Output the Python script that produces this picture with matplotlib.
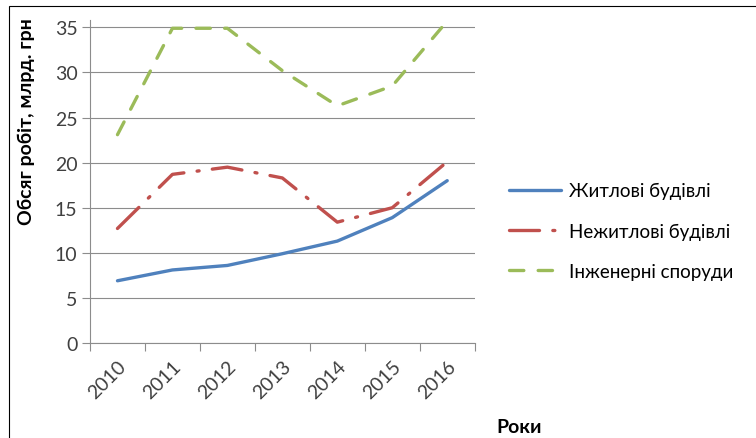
import numpy as np
import matplotlib.pyplot as plt
from matplotlib.patches import Rectangle

plt.rcParams['font.family'] = ['Lato', 'DejaVu Sans']

years = ['2010', '2011', '2012', '2013', '2014', '2015', '2016']
residential = [6.9, 8.1, 8.6, 9.9, 11.3, 13.9, 18.0]
non_residential = [12.7, 18.7, 19.5, 18.3, 13.4, 15.0, 20.1]
engineering = [23.1, 34.9, 34.9, 30.2, 26.3, 28.5, 35.7]
y_ticks = [0, 5, 10, 15, 20, 25, 30, 35]

fig = plt.figure(figsize=(7.56, 4.39), dpi=100)
ax = fig.add_axes([90 / 756, 1 - 344 / 439, (474.7 - 90) / 756, (344 - 20.7) / 439])

# chart border (Excel-style frame, cut off at right/bottom)
fig.patches.append(Rectangle((9 / 756, -0.1), 1.2, 1 - 7 / 439 + 0.1,
                             transform=fig.transFigure, fill=False,
                             edgecolor='#000000', linewidth=0.8))

x = np.arange(len(years))
ax.plot(x, residential, color='#4F81BD', lw=2.4, solid_capstyle='round',
        label='Житлові будівлі')
ax.plot(x, non_residential, color='#C0504D', lw=2.4, dashes=(9, 4, 0.6, 4),
        dash_capstyle='round', label='Нежитлові будівлі')
ax.plot(x, engineering, color='#9BBB59', lw=2.4, dashes=(4.3, 4.3),
        dash_capstyle='round', label='Інженерні споруди')

ax.set_xlim(-0.5, len(years) - 0.5)
ax.set_ylim(0, 35.85)
ax.set_yticks(y_ticks)
ax.set_yticklabels([str(v) for v in y_ticks], fontsize=14, color='#404040')
ax.yaxis.grid(True, color='#8c8c8c', linewidth=0.8)
ax.set_axisbelow(True)

ax.set_xticks(x)
ax.set_xticklabels(years, rotation=45, ha='right', rotation_mode='anchor',
                   fontsize=14, color='#404040')
ax.tick_params(axis='x', which='major', length=0, pad=10)
ax.set_xticks(np.arange(-0.5, len(years)), minor=True)
ax.tick_params(axis='x', which='minor', length=6, color='#8c8c8c', width=0.8)
ax.tick_params(axis='y', length=6, color='#8c8c8c', width=0.8, pad=3)

for s in ['top', 'right']:
    ax.spines[s].set_visible(False)
for s in ['left', 'bottom']:
    ax.spines[s].set_color('#8c8c8c')
    ax.spines[s].set_linewidth(0.8)

fig.text(26 / 756, 1 - 122 / 439, 'Обсяг робіт, млрд. грн', rotation=90,
         ha='center', va='center', fontsize=14, fontweight='bold')
fig.text(519 / 756, 1 - 428 / 439, 'Роки', ha='center', va='center',
         fontsize=14, fontweight='bold')

ax.legend(loc='center left', bbox_to_anchor=(492 / 756, 1 - 232 / 439),
          bbox_transform=fig.transFigure, frameon=False, fontsize=13.5,
          handlelength=2.8, labelspacing=1.25, handletextpad=0.4)

fig.savefig('out.png', dpi=100)
